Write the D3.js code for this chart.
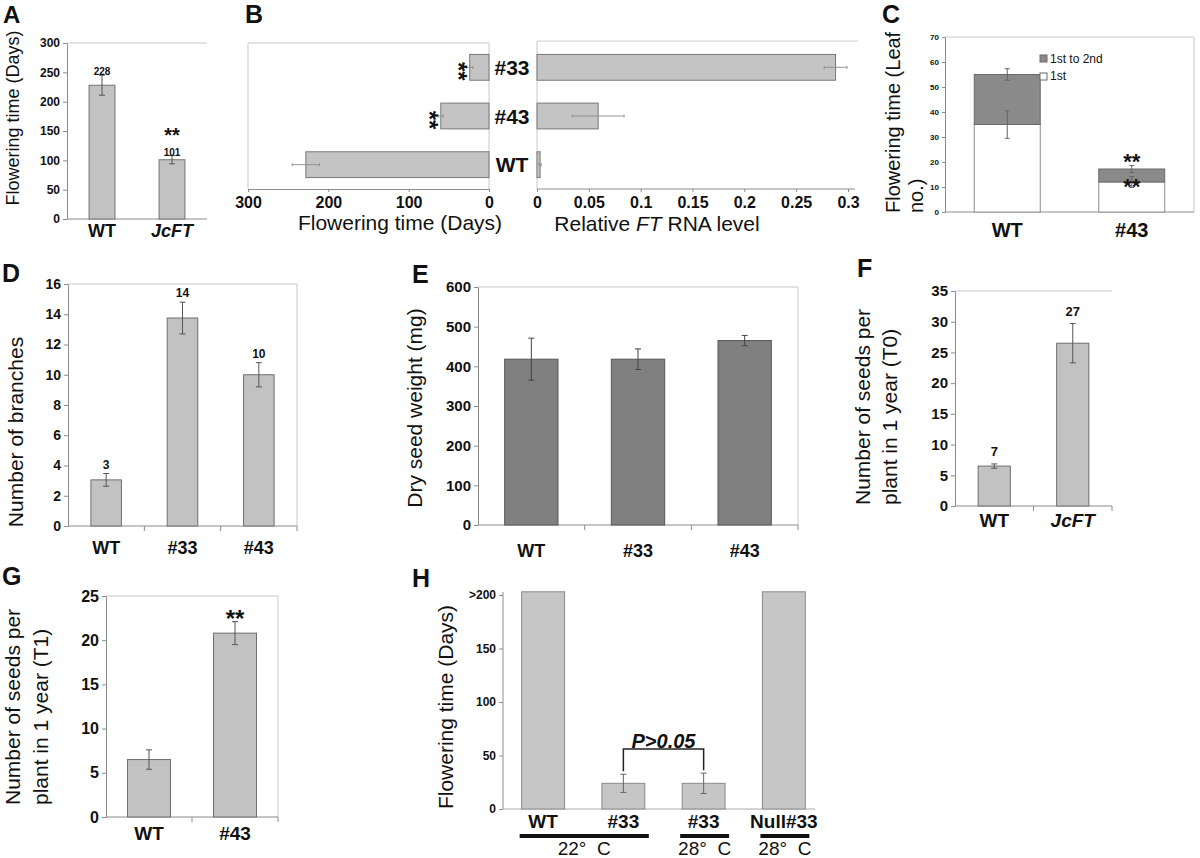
<!DOCTYPE html>
<html>
<head>
<meta charset="utf-8">
<script src="https://cdn.jsdelivr.net/npm/d3@7"></script>
<style>
  body { margin: 0; background: #fff; }
  svg text { font-family: "Liberation Sans", Arial, sans-serif; fill: #111; }
</style>
</head>
<body>
<svg id="fig" width="1200" height="858"></svg>
<script>
// ---------- data ----------
// A: flowering time (days)
const aCats = ["WT", "JcFT"];
const aDays = [228, 101];
const aErr = [17, 7];
const aTicks = [0, 50, 100, 150, 200, 250, 300];

// B: flowering time vs relative FT RNA level (horizontal bars)
const bLines = ["#33", "#43", "WT"];
const bDays = [24, 60, 228];
const bDaysErr = [4, 3, 17];
const bRna = [0.288, 0.059, 0.003];
const bRnaErr = [0.011, 0.025, 0.001];
const bDayTicks = [300, 200, 100, 0];
const bRnaTicks = [0, 0.05, 0.1, 0.15, 0.2, 0.25, 0.3];

// C: leaf number, stacked
const cCats = ["WT", "#43"];
const cFirst = [35, 12];
const cFirstErr = [5.5, 2.2];
const cSecond = [20, 5.2];     // "1st to 2nd" part on top of "1st"
const cTotalErr = [2.3, 1.4];
const cTicks = [0, 10, 20, 30, 40, 50, 60, 70];

// D: branches
const dCats = ["WT", "#33", "#43"];
const dBranches = [3.05, 13.75, 10];
const dErr = [0.42, 1.05, 0.8];
const dLabels = ["3", "14", "10"];
const dTicks = [0, 2, 4, 6, 8, 10, 12, 14, 16];

// E: dry seed weight
const eCats = ["WT", "#33", "#43"];
const eWeight = [418, 418, 465];
const eErr = [53, 26, 13];
const eTicks = [0, 100, 200, 300, 400, 500, 600];

// F: seeds per plant (T0)
const fCats = ["WT", "JcFT"];
const fSeeds = [6.5, 26.5];
const fErr = [0.35, 3.2];
const fLabels = ["7", "27"];
const fTicks = [0, 5, 10, 15, 20, 25, 30, 35];

// G: seeds per plant (T1)
const gCats = ["WT", "#43"];
const gSeeds = [6.5, 20.8];
const gErr = [1.1, 1.3];
const gTicks = [0, 5, 10, 15, 20, 25];

// H: flowering time at 22 / 28 C (WT and Null#33 are ">200", drawn just past the top tick)
const hKeys = ["WT22", "L33_22", "L33_28", "Null33_28"];
const hNames = ["WT", "#33", "#33", "Null#33"];
const hDays = [203, 24, 24, 203];
const hErr = [0, 8.5, 9.5, 0];
const hTicks = [0, 50, 100, 150, 200];
const hTemps = ["22°\u00a0 C", "28°\u00a0 C", "28°\u00a0 C"];
const hTempSpan = [[0, 1], [2, 2], [3, 3]];

// ---------- drawing ----------
const FONT = "'Liberation Sans', Arial, sans-serif";
const NARROW = "'Liberation Sans Narrow', 'DejaVu Sans Condensed', 'Liberation Sans', sans-serif";
const svg = d3.select("#fig");
svg.append("rect").attr("width", 1200).attr("height", 858).attr("fill", "#fff");

function txt(g, s, x, y, size, o = {}) {
  return g.append("text")
    .attr("x", x).attr("y", y)
    .attr("font-size", size)
    .attr("font-weight", o.weight || "bold")
    .attr("font-style", o.italic ? "italic" : null)
    .attr("text-anchor", o.anchor || "middle")
    .text(s);
}

// rotated axis title, one or more lines
function yTitle(g, lines, x0, y0, size, anchor, gap) {
  lines.forEach((t, i) => {
    g.append("text")
      .attr("transform", `translate(${x0 + i * gap},${y0}) rotate(-90)`)
      .attr("text-anchor", anchor)
      .attr("font-size", size)
      .text(t);
  });
}

function hline(g, x1, x2, y, c, w = 1) {
  g.append("line").attr("x1", x1).attr("x2", x2).attr("y1", y).attr("y2", y).attr("stroke", c).attr("stroke-width", w);
}
function vline(g, x, y1, y2, c, w = 1) {
  g.append("line").attr("x1", x).attr("x2", x).attr("y1", y1).attr("y2", y2).attr("stroke", c).attr("stroke-width", w);
}

function styleAxis(ax, size, family) {
  ax.select(".domain").attr("stroke", "#8c8c8c");
  ax.selectAll(".tick line").attr("stroke", "#8c8c8c");
  ax.selectAll(".tick text")
    .attr("font-family", family || FONT)
    .attr("font-size", size)
    .attr("font-weight", "bold")
    .attr("fill", "#111");
}

// vertical bar panel
function vPanel(o) {
  const g = svg.append("g");
  const keys = o.keys || o.cats;
  const x = d3.scaleBand().domain(keys).range([o.left, o.right])
    .paddingInner(o.pad).paddingOuter(o.pad / 2);
  const y = d3.scaleLinear().domain([0, o.ymax]).range([o.bottom, o.top]);

  if (o.frameTop) hline(g, o.left, o.right, o.top, "#c8c8c8");
  if (o.frameRight) vline(g, o.right, o.top, o.bottom, "#c8c8c8");

  const ya = g.append("g").attr("transform", `translate(${o.left},0)`)
    .call(d3.axisLeft(y).tickValues(o.ticks).tickSize(4).tickSizeOuter(0)
      .tickPadding(3).tickFormat(o.fmt || (d => d)));
  styleAxis(ya, o.tickFont, o.tickFamily);
  if (o.axisTop) ya.select(".domain").attr("d", `M0,${o.axisTop}V${o.bottom}`);

  hline(g, o.left, o.axisRight || o.right, o.bottom, o.axisColor || "#8c8c8c");
  if (o.catTicks) {
    const step = x.step();
    const edges = keys.slice(1).map(k => x(k) - step * o.pad / 2).concat([o.right]);
    g.selectAll(".xt").data(edges).join("line")
      .attr("x1", d => d).attr("x2", d => d)
      .attr("y1", o.bottom).attr("y2", o.bottom + 5)
      .attr("stroke", "#8c8c8c");
  }

  const rows = keys.map((k, i) => ({ k, v: o.vals[i], e: o.errs[i], i }));
  g.selectAll(".bar").data(rows).join("rect")
    .attr("x", d => x(d.k)).attr("width", x.bandwidth())
    .attr("y", d => y(d.v)).attr("height", d => o.bottom - y(d.v))
    .attr("fill", o.fill).attr("stroke", o.stroke).attr("stroke-width", 1);

  const eb = g.selectAll(".eb").data(rows.filter(d => d.e > 0)).join("g")
    .attr("stroke", o.errColor || "#555").attr("stroke-width", 1);
  const cx = d => x(d.k) + x.bandwidth() / 2;
  eb.append("line").attr("x1", cx).attr("x2", cx)
    .attr("y1", d => y(d.v - d.e)).attr("y2", d => y(d.v + d.e));
  [1, -1].forEach(s => {
    eb.append("line").attr("x1", d => cx(d) - 3).attr("x2", d => cx(d) + 3)
      .attr("y1", d => y(d.v + s * d.e)).attr("y2", d => y(d.v + s * d.e));
  });

  if (o.labels) {
    rows.forEach(d => txt(g, o.labels[d.i], cx(d), y(d.v + d.e) - o.labelGap, o.labelFont));
  }
  const names = o.names || o.cats;
  rows.forEach(d => txt(g, names[d.i], cx(d), o.catY, o.catFont,
    { italic: (o.italic || []).includes(names[d.i]) }));
  return { g, x, y };
}

// ----- A -----
const A = vPanel({
  cats: aCats, vals: aDays, errs: aErr, labels: aDays.map(String), ticks: aTicks,
  left: 67, right: 207, top: 43, bottom: 219, ymax: 300, pad: 0.63,
  fill: "#c2c2c2", stroke: "#747474", tickFont: 12, catFont: 18, catY: 237,
  frameTop: true, labelFont: 10, labelGap: 0, italic: ["JcFT"]
});
txt(A.g, "**", A.x("JcFT") + A.x.bandwidth() / 2, 142, 20);
yTitle(A.g, ["Flowering time  (Days)"], 19, 118, 18, "middle", 0);
txt(svg, "A", 3, 23, 24, { anchor: "start" });

// ----- B -----
const gB = svg.append("g");
const by = d3.scaleBand().domain(bLines).range([43, 189]).paddingInner(0.47).paddingOuter(0.235);
const bxL = d3.scaleLinear().domain([300, 0]).range([248, 489]);
const bxR = d3.scaleLinear().domain([0, 0.3]).range([537, 848]);
hline(gB, 248, 489, 43, "#c8c8c8");
vline(gB, 248, 43, 189, "#c8c8c8");
vline(gB, 489, 43, 189, "#c8c8c8");
hline(gB, 537, 858, 41, "#d0d0d0");
vline(gB, 537, 41, 189, "#c8c8c8");
const axBL = gB.append("g").attr("transform", "translate(0,189)")
  .call(d3.axisBottom(bxL).tickValues(bDayTicks).tickSize(3).tickSizeOuter(0).tickPadding(5));
styleAxis(axBL, 16);
const axBR = gB.append("g").attr("transform", "translate(0,189)")
  .call(d3.axisBottom(bxR).tickValues(bRnaTicks).tickSize(3).tickSizeOuter(0).tickPadding(5)
    .tickFormat(d => String(d)));
styleAxis(axBR, 16);
axBR.select(".domain").attr("d", "M537,0H855");
const bw = by.bandwidth();
bLines.forEach((c, i) => {
  const yc = by(c) + bw / 2;
  gB.append("rect").attr("x", bxL(bDays[i])).attr("y", by(c))
    .attr("width", bxL(0) - bxL(bDays[i])).attr("height", bw)
    .attr("fill", "#c4c4c4").attr("stroke", "#787878");
  gB.append("rect").attr("x", bxR(0)).attr("y", by(c))
    .attr("width", bxR(bRna[i]) - bxR(0)).attr("height", bw)
    .attr("fill", "#c4c4c4").attr("stroke", "#787878");
  // whiskers
  const w1 = [bxL(bDays[i] + bDaysErr[i]), bxL(bDays[i] - bDaysErr[i])];
  const w2 = [bxR(bRna[i] - bRnaErr[i]), bxR(bRna[i] + bRnaErr[i])];
  [w1, w2].forEach(w => {
    hline(gB, w[0], w[1], yc, "#8a8a8a", 0.9);
    vline(gB, w[0], yc - 1.5, yc + 1.5, "#8a8a8a", 0.9);
    vline(gB, w[1], yc - 1.5, yc + 1.5, "#8a8a8a", 0.9);
  });
  txt(gB, c, 512, yc + 7.5, 21);
  if (c !== "WT") {
    gB.append("text")
      .attr("transform", `translate(${bxL(bDays[i]) - 6 - 13.8},${yc + 4}) rotate(90)`)
      .attr("text-anchor", "middle").attr("font-size", 24).attr("font-weight", "bold")
      .text("**");
  }
});
txt(gB, "Flowering time  (Days)", 400, 230, 21, { weight: "normal" });
const rt = gB.append("text").attr("x", 657).attr("y", 231).attr("text-anchor", "middle")
  .attr("font-size", 21);
rt.append("tspan").text("Relative ");
rt.append("tspan").attr("font-style", "italic").text("FT");
rt.append("tspan").text(" RNA level");
txt(svg, "B", 245, 23, 25, { anchor: "start" });

// ----- C -----
const gC = svg.append("g");
const cx = d3.scaleBand().domain(cCats).range([945, 1194]).paddingInner(0.47).paddingOuter(0.235);
const cy = d3.scaleLinear().domain([0, 70]).range([212, 37]);
hline(gC, 945, 1194, 37, "#c8c8c8");
vline(gC, 1194, 37, 212, "#c8c8c8");
const axC = gC.append("g").attr("transform", "translate(945,0)")
  .call(d3.axisLeft(cy).tickValues(cTicks).tickSize(3).tickSizeOuter(0).tickPadding(3));
styleAxis(axC, 8);
hline(gC, 945, 1194, 212, "#8c8c8c");
cCats.forEach((c, i) => {
  const x0 = cx(c), w = cx.bandwidth(), mid = x0 + w / 2;
  const tot = cFirst[i] + cSecond[i];
  gC.append("rect").attr("x", x0).attr("y", cy(cFirst[i])).attr("width", w)
    .attr("height", cy(0) - cy(cFirst[i])).attr("fill", "#fff").attr("stroke", "#8e8e8e");
  gC.append("rect").attr("x", x0).attr("y", cy(tot)).attr("width", w)
    .attr("height", cy(cFirst[i]) - cy(tot)).attr("fill", "#8a8a8a").attr("stroke", "#6a6a6a");
  [[cFirst[i], cFirstErr[i]], [tot, cTotalErr[i]]].forEach(([v, e]) => {
    vline(gC, mid, cy(v - e), cy(v + e), "#666");
    hline(gC, mid - 2.5, mid + 2.5, cy(v - e), "#666");
    hline(gC, mid - 2.5, mid + 2.5, cy(v + e), "#666");
  });
  txt(gC, c, mid, 237, 20);
});
{
  const mid = cx("#43") + cx.bandwidth() / 2;
  txt(gC, "**", mid, 169, 22);
  txt(gC, "**", mid, 194, 22);
}
gC.append("rect").attr("x", 1040).attr("y", 55).attr("width", 7).attr("height", 7)
  .attr("fill", "#8a8a8a").attr("stroke", "#6a6a6a");
gC.append("rect").attr("x", 1040).attr("y", 73).attr("width", 7).attr("height", 7)
  .attr("fill", "#fff").attr("stroke", "#6a6a6a");
txt(gC, "1st to 2nd", 1050, 63, 12, { anchor: "start", weight: "normal" });
txt(gC, "1st", 1050, 80, 12, { anchor: "start", weight: "normal" });
yTitle(gC, ["Flowering time  (Leaf", "no.)"], 900, 213, 20, "start", 23);
txt(svg, "C", 882, 23, 25, { anchor: "start" });

// ----- D -----
const D = vPanel({
  cats: dCats, vals: dBranches, errs: dErr, labels: dLabels, ticks: dTicks,
  left: 68, right: 297, top: 284, bottom: 526, ymax: 16, pad: 0.6,
  fill: "#c2c2c2", stroke: "#6e6e6e", tickFont: 14, catFont: 18, catY: 554,
  frameTop: true, frameRight: true, catTicks: true, labelFont: 12, labelGap: 5
});
yTitle(D.g, ["Number of branches"], 23, 432, 21, "middle", 0);
txt(svg, "D", 2, 282, 25, { anchor: "start" });

// ----- E -----
const E = vPanel({
  cats: eCats, vals: eWeight, errs: eErr, ticks: eTicks,
  left: 478, right: 798, top: 287, bottom: 525, ymax: 600, pad: 0.5,
  fill: "#808080", stroke: "#555", errColor: "#444", tickFont: 15, catFont: 18, catY: 557,
  frameTop: true, frameRight: true, catTicks: true
});
yTitle(E.g, ["Dry seed weight (mg)"], 422, 408, 21, "middle", 0);
txt(svg, "E", 412, 283, 25, { anchor: "start" });

// ----- F -----
const F = vPanel({
  cats: fCats, vals: fSeeds, errs: fErr, labels: fLabels, ticks: fTicks,
  left: 955, right: 1112, top: 291, bottom: 506, ymax: 35, pad: 0.59,
  fill: "#c2c2c2", stroke: "#6e6e6e", tickFont: 15, catFont: 19, catY: 527,
  frameTop: true, catTicks: true, labelFont: 13, labelGap: 8, italic: ["JcFT"]
});
yTitle(F.g, ["Number of seeds per", "plant in 1 year (T0)"], 870, 505, 21, "start", 27);
txt(svg, "F", 857, 277, 25, { anchor: "start" });

// ----- G -----
const G = vPanel({
  cats: gCats, vals: gSeeds, errs: gErr, ticks: gTicks,
  left: 106, right: 278, top: 596, bottom: 817, ymax: 25, pad: 0.5,
  fill: "#c2c2c2", stroke: "#6e6e6e", tickFont: 16, catFont: 19, catY: 840,
  frameTop: true, frameRight: true, catTicks: true
});
txt(G.g, "**", G.x("#43") + G.x.bandwidth() / 2, G.y(gSeeds[1] + gErr[1]) + 5.5, 24);
yTitle(G.g, ["Number of seeds per", "plant in 1 year (T1)"], 20, 805, 21, "start", 28);
txt(svg, "G", 2, 585, 25, { anchor: "start" });

// ----- H -----
const H = vPanel({
  cats: hKeys, keys: hKeys, names: hNames, vals: hDays, errs: hErr, ticks: hTicks,
  left: 503, right: 824, axisRight: 815, top: 595, bottom: 809, ymax: 200, pad: 0.465,
  fill: "#c6c6c6", stroke: "#8a8a8a", errColor: "#666", axisColor: "#aaa",
  tickFont: 12, tickFamily: NARROW, catFont: 19, catY: 828,
  fmt: d => (d === 200 ? ">200" : d), axisTop: 592
});
{
  const hb = H.x.bandwidth();
  const mid = k => H.x(k) + hb / 2;
  // bracket between the two #33 bars
  const yb = H.y(56);
  const x1 = mid(hKeys[1]), x2 = mid(hKeys[2]);
  H.g.append("path")
    .attr("d", `M${x1},${H.y(hDays[1] + hErr[1]) - 3}V${yb}H${x2}V${H.y(hDays[2] + hErr[2]) - 3}`)
    .attr("fill", "none").attr("stroke", "#222").attr("stroke-width", 1.5);
  txt(H.g, "P>0.05", (x1 + x2) / 2, yb - 1, 20, { italic: true });
  // temperature groups
  hTempSpan.forEach(([a, b], i) => {
    const u1 = H.x(hKeys[a]) - 2, u2 = H.x(hKeys[b]) + hb + 4;
    hline(H.g, u1, u2, 836, "#111", 4);
    txt(H.g, hTemps[i], (u1 + u2) / 2, 855, 19, { weight: "normal" });
  });
}
yTitle(H.g, ["Flowering time  (Days)"], 453, 707, 21, "middle", 0);
txt(svg, "H", 412, 587, 25, { anchor: "start" });
</script>
</body>
</html>
